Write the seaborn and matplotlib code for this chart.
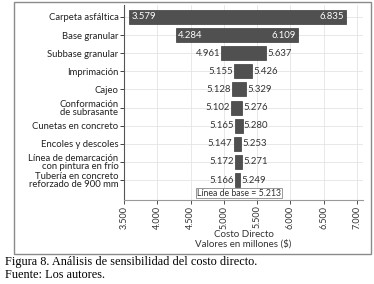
import matplotlib
matplotlib.use("Agg")
import matplotlib.pyplot as plt
import seaborn as sns
import pandas as pd
from matplotlib.ticker import FuncFormatter
from matplotlib.patches import Rectangle

categories = ["Carpeta asfáltica", "Base granular", "Subbase granular", "Imprimación",
              "Cajeo", "Conformación\nde subrasante", "Cunetas en concreto",
              "Encoles y descoles", "Línea de demarcación\ncon pintura en frío",
              "Tubería en concreto\nreforzado de 900 mm"]
low_values = [3.579, 4.284, 4.961, 5.155, 5.128, 5.102, 5.165, 5.147, 5.172, 5.166]
high_values = [6.835, 6.109, 5.637, 5.426, 5.329, 5.276, 5.280, 5.253, 5.271, 5.249]
baseline_value = 5.213
x_ticks = [3.5, 4.0, 4.5, 5.0, 5.5, 6.0, 6.5, 7.0]
x_label = "Costo Directo\nValores en millones ($)"
caption = "Figura 8. Análisis de sensibilidad del costo directo.\nFuente: Los autores."

sns.set_theme(style="whitegrid")
plt.rcParams['font.family'] = ['Lato', 'DejaVu Sans']

df = pd.DataFrame({"cat": categories, "low": low_values, "high": high_values})

fig = plt.figure(figsize=(3.74, 2.84), dpi=100)
ax = fig.add_axes([124/374, 1-200/284, (363-124)/374, (200-5)/284])

sns.barplot(data=df, x="high", y="cat", orient="h", color="#505050", width=0.77,
            saturation=1, ax=ax, edgecolor="#3a3a3a", linewidth=0.5)
for patch, lo, hi in zip(ax.patches, low_values, high_values):
    patch.set_x(lo)
    patch.set_width(hi - lo)

ax.set_xlim(3.5, 7.09)
ax.set_ylim(10.1, -0.66)
ax.set_xticks(x_ticks)
ax.xaxis.set_major_formatter(FuncFormatter(lambda v, p: f"{v:.3f}"))
ax.tick_params(axis="x", labelrotation=90, labelsize=6.5, colors="#333333",
               length=3, width=0.6, pad=1, bottom=True)
ax.tick_params(axis="y", labelsize=6.8, colors="#222222", length=3, width=0.6,
               pad=1, left=True)
for t in ax.get_yticklabels():
    t.set_linespacing(0.9)
ax.set_ylabel("")
ax.set_xlabel(x_label, fontsize=7, color="#333333", labelpad=1, linespacing=1.0)
ax.grid(True, color="#e4e4e4", linewidth=0.6)
ax.set_axisbelow(True)
for s in ["top", "right"]:
    ax.spines[s].set_visible(False)
ax.spines["left"].set_color("#555555")
ax.spines["left"].set_linewidth(0.8)
ax.spines["bottom"].set_color("#999999")
ax.spines["bottom"].set_linewidth(0.8)

for i, (lo, hi) in enumerate(zip(low_values, high_values)):
    if i < 2:
        ax.text(lo + 0.03, i, f"{lo:.3f}", va="center", ha="left", fontsize=6.9, color="white")
        ax.text(hi - 0.03, i, f"{hi:.3f}", va="center", ha="right", fontsize=6.9, color="white")
    else:
        ax.text(lo - 0.02, i, f"{lo:.3f}", va="center", ha="right", fontsize=6.9, color="#333333")
        ax.text(hi + 0.02, i, f"{hi:.3f}", va="center", ha="left", fontsize=6.9, color="#333333")

ax.text(5.227, 9.72, f"Línea de base = {baseline_value:.3f}", ha="center", va="center",
        fontsize=6.3, color="#333333",
        bbox=dict(boxstyle="square,pad=0.1", fc="white", ec="#888888", lw=0.6))

fig.patches.append(Rectangle((14/374, 1-254/284), (371-14)/374, (252)/284,
                             transform=fig.transFigure, fill=False, ec="#8a8a8a", lw=1.0))
fig.text(5/374, 1-256/284, caption, ha="left", va="top", fontsize=8.8,
         family=["Liberation Serif", "DejaVu Serif"], color="black", linespacing=1.15)

fig.savefig("out.png", dpi=100)
